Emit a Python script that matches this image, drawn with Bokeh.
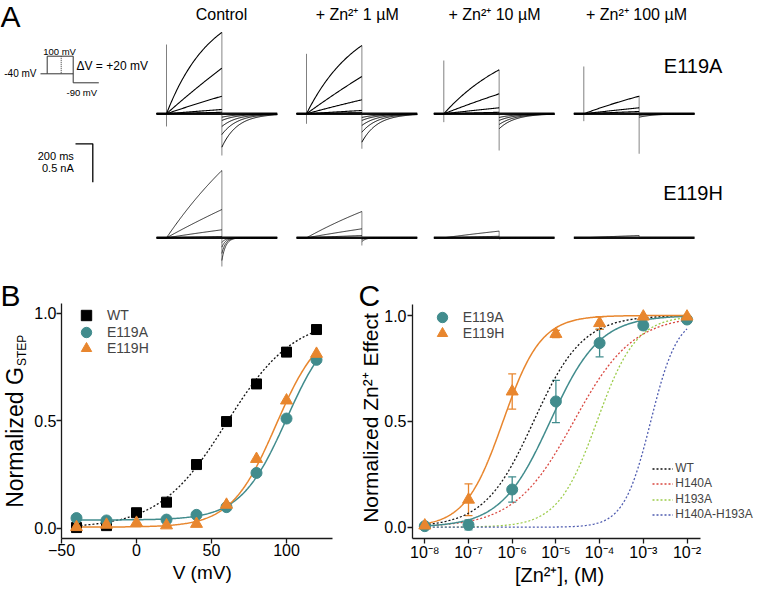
import numpy as np
from math import pi
from bokeh.plotting import figure
from bokeh.layouts import column, row
from bokeh.models import (Range1d, Label, FixedTicker, PrintfTickFormatter, Legend,
                          LegendItem, Whisker, TeeHead, ColumnDataSource)
from bokeh.embed import file_html
from bokeh.resources import INLINE

FONT = "Liberation Sans"
TEAL = "#418c8d"
ORANGE = "#e8862e"

# ======================= DATA =======================
# ---- Panel A : current traces ----
conditions = ["Control", "+ Zn²⁺ 1 µM", "+ Zn²⁺ 10 µM", "+ Zn²⁺ 100 µM"]
mutants = ["E119A", "E119H"]
step_ms = 640
pre_ms = 115
post_ms = 640
scale_ms = 200
scale_na = 0.5
# current at the end of each depolarizing step (nA), largest first
e119a_step_na = [[1.06, 0.594, 0.229, 0.056, 0.02],
                 [0.889, 0.486, 0.182, 0.043, 0.015],
                 [0.573, 0.26, 0.078, 0.02],
                 [0.229, 0.078, 0.03]]
e119a_tail_na = [[-0.435, -0.27, -0.165, -0.087, -0.044],
                 [-0.37, -0.24, -0.152, -0.087, -0.048],
                 [-0.195, -0.139, -0.087, -0.048],
                 [-0.044, -0.02, -0.01]]
e119a_tau_ms = [510, 600, 880, 1900]
e119a_tail_tau_ms = 180
e119a_on_spike = [[0.902, -0.165], [0.781, -0.13], [0.694, -0.109], [0.616, -0.096]]
e119a_off_spike = [[1.0625, -0.543], [0.889, -0.456], [0.573, -0.478], [0.238, -0.521]]

e119h_step_na = [[0.876, 0.368, 0.104, 0.017],
                 [0.342, 0.117, 0.03],
                 [0.087, 0.02],
                 [0.03]]
e119h_tail_na = [[-0.296, -0.204, -0.122, -0.06],
                 [-0.05, -0.02, -0.01],
                 [-0.015, -0.005],
                 [-0.01]]
e119h_tau_ms = [1600, 2000, 3000, 3000]
e119h_tail_tau_ms = 45
e119h_off_spike = [[0.876, -0.374], [0.342, -0.10], [0.09, -0.01], [0.03, -0.01]]
other_tau_ms = 4000

# ---- Panel B : G-V ----
v_mv = [-40, -20, 0, 20, 40, 60, 80, 100, 120]
wt_g = [0.003, 0.012, 0.072, 0.121, 0.296, 0.496, 0.671, 0.819, 0.924]
e119a_v = [-40, -20, 20, 40, 60, 80, 100, 120]
e119a_g = [0.047, 0.036, 0.040, 0.062, 0.098, 0.257, 0.510, 0.783]
e119h_g = [0.005, 0.016, 0.025, 0.013, 0.020, 0.109, 0.322, 0.594, 0.811]
# Boltzmann fits: baseline, amplitude, V1/2 (mV), slope (mV)
wt_boltz = [0.0, 0.98, 60.0, 22.5]
e119a_boltz = [0.038, 0.94, 100.0, 15.3]
e119h_boltz = [0.005, 0.95, 93.0, 15.0]

# ---- Panel C : dose-response ----
zn_m = [1e-8, 1e-7, 1e-6, 1e-5, 1e-4, 1e-3, 1e-2]
zn_exp = [-8, -7, -6, -5, -4, -3, -2]
c_e119a = [0.005, 0.011, 0.178, 0.594, 0.870, 0.953, 0.981]
c_e119a_err = [0.0, 0.024, 0.06, 0.10, 0.065, 0.02, 0.0]
c_e119h = [0.008, 0.13, 0.641, 0.913, 0.964, 0.995, 0.995]
c_e119h_err = [0.0, 0.075, 0.083, 0.017, 0.03, 0.0, 0.0]
# Hill fits: log10 EC50, Hill coefficient
hill_e119a = [-5.13, 0.77]
hill_e119h = [-6.21, 1.0]
ref_names = ["WT", "H140A", "H193A", "H140A-H193A"]
ref_hill = [[-5.51, 0.77], [-4.59, 0.64], [-4.06, 0.97], [-2.83, 1.41]]
ref_colors = ["#111111", "#d9473f", "#9ccc4a", "#4f5cb0"]

SUP = str.maketrans("-0123456789", "⁻⁰¹²³⁴⁵⁶⁷⁸⁹")
BASE_SHIFT = 0.3   # measured offset of the drawn baseline, in em


def lab(p, fx, fy, wx, wy, text, size, align="left", vertical=False):
    """Place a text so that its baseline lands at window pixel (wx, wy)."""
    if vertical:
        wx = wx - BASE_SHIFT * size
    else:
        wy = wy - BASE_SHIFT * size
    p.add_layout(Label(x=fx(wx), y=fy(wy), text=text, text_font=FONT,
                       text_font_size=f"{size}px", text_align=align,
                       text_baseline="alphabetic", angle=pi / 2 if vertical else 0.0,
                       text_color="black"))


# ======================= PANEL A =======================
W = 763
H_A = 280
H_B = 312
PX_MS = 17.3 / scale_ms
PX_NA = 38.4 / scale_na
ROW_Y_WIN = [113.3, 237.3]
GROUP_X_WIN = [166, 306, 443.3, 583.3]


def ax(wx):
    return wx / PX_MS


def ay(wy):
    return (ROW_Y_WIN[0] - wy) / PX_NA


pA = figure(width=W, height=H_A, x_range=Range1d(ax(0), ax(W)),
            y_range=Range1d(ay(H_A), ay(0)), toolbar_location=None,
            output_backend="svg", x_axis_location=None, y_axis_location=None,
            min_border=0, outline_line_color=None)
pA.xgrid.visible = False
pA.ygrid.visible = False

t_step = np.linspace(0, step_ms, 70)
t_post = np.linspace(step_ms, step_ms + post_ms, 90)


def act_curve(amp, tau, t):
    return amp * (1 - np.exp(-t / tau)) / (1 - np.exp(-step_ms / tau))


rows = [(e119a_step_na, e119a_tail_na, e119a_tau_ms, e119a_tail_tau_ms, 1.1),
        (e119h_step_na, e119h_tail_na, e119h_tau_ms, e119h_tail_tau_ms, 0.8)]
for r, (steps, tails, taus, ttau, lw) in enumerate(rows):
    y0 = ay(ROW_Y_WIN[r])
    for g in range(len(conditions)):
        x0 = ax(GROUP_X_WIN[g])
        if r == 0:
            top, bot = e119a_on_spike[g]
            pA.segment(x0=[x0], y0=[y0 + top], x1=[x0], y1=[y0 + bot],
                       line_color="#808080", line_width=1)
            top, bot = e119a_off_spike[g]
        else:
            top, bot = e119h_off_spike[g]
        pA.segment(x0=[x0 + step_ms], y0=[y0 + top], x1=[x0 + step_ms], y1=[y0 + bot],
                   line_color="#9a9a9a", line_width=1.2)
        pA.line([x0 - pre_ms, x0 + step_ms + post_ms], [y0, y0],
                line_width=2.6, line_color="#111111")
        for i, (a, b) in enumerate(zip(steps[g], tails[g])):
            tau = taus[g] if i == 0 else other_tau_ms
            xs = np.concatenate([[x0 - pre_ms, x0], x0 + t_step])
            ys = np.concatenate([[y0, y0], y0 + act_curve(a, tau, t_step)])
            pA.line(xs, ys, line_width=lw, line_color="black")
            pA.line(x0 + t_post, y0 + b * np.exp(-(t_post - step_ms) / ttau),
                    line_width=lw * 0.9, line_color="black")

title_x = [221, 356.7, 494, 636]
for tx, txt in zip(title_x, conditions):
    lab(pA, ax, ay, tx, 18.3, txt, 16, align="center")
lab(pA, ax, ay, 663.3, 71, mutants[0], 20)
lab(pA, ax, ay, 662.7, 198.7, mutants[1], 20)
lab(pA, ax, ay, 0, 24.5, "A", 30)

# voltage protocol schematic
proto_x = [40, 46.7, 46.7, 72.7, 72.7, 98.3]
proto_y = [73.3, 73.3, 55.7, 55.7, 82.3, 82.3]
pA.line([ax(v) for v in proto_x], [ay(v) for v in proto_y], line_color="#333333", line_width=1)
pA.line([ax(46.7), ax(72.7)], [ay(73.3), ay(73.3)], line_color="#333333", line_width=1)
pA.line([ax(60.7), ax(60.7)], [ay(55.7), ay(73.3)], line_color="#333333", line_width=1,
        line_dash="1 1")
lab(pA, ax, ay, 36, 76.3, "-40 mV", 10, align="right")
lab(pA, ax, ay, 42.7, 53.5, "100 mV", 9.5)
lab(pA, ax, ay, 76, 69.3, "ΔV = +20 mV", 12)
lab(pA, ax, ay, 66, 95.2, "-90 mV", 9.5)

# scale bar
sx0, sy0 = ax(92.3), ay(143.3)
pA.line([sx0 - scale_ms, sx0, sx0], [sy0, sy0, sy0 - scale_na], line_color="black", line_width=1.3)
lab(pA, ax, ay, 73.3, 158.3, f"{scale_ms} ms", 11, align="right")
lab(pA, ax, ay, 73.3, 170.7, f"{scale_na} nA", 11, align="right")


def style_axes(p, xb, yb, xfix, yfix):
    for a in list(p.xaxis) + list(p.yaxis):
        a.axis_line_width = 1.3
        a.axis_line_color = "#1a1a1a"
        a.major_tick_line_width = 1.3
        a.major_tick_line_color = "#1a1a1a"
        a.major_tick_in = 0
        a.major_tick_out = 5
        a.minor_tick_in = 0
        a.minor_tick_out = 0
        a.major_label_text_font = FONT
        a.major_label_text_font_size = "16px"
        a.major_label_text_color = "black"
        a.major_label_standoff = 0
    p.xaxis.bounds = xb
    p.yaxis.bounds = yb
    p.xaxis.fixed_location = yfix
    p.yaxis.fixed_location = xfix
    p.xgrid.visible = False
    p.ygrid.visible = False
    p.outline_line_color = None


def single_legend(p, renderer, label, loc, gw, gh, standoff, size):
    p.add_layout(Legend(items=[LegendItem(label=label, renderers=[renderer])],
                        location=loc, glyph_width=gw, glyph_height=gh, label_height=gh,
                        spacing=0, padding=0, margin=0, label_standoff=standoff,
                        label_text_font=FONT, label_text_font_size=f"{size}px",
                        border_line_color=None, background_fill_alpha=0))


# ======================= PANEL B =======================
B_X0, B_W = 0, 358


def bx(wx):
    return -50 + (wx - 61) / 1.5


def by(wy):
    return (527.7 - wy) / 215.0


pB = figure(width=B_W, height=H_B, x_range=Range1d(bx(B_X0), bx(B_X0 + B_W)),
            y_range=Range1d(by(H_A + H_B), by(H_A)), toolbar_location=None,
            output_backend="svg", min_border=0)
style_axes(pB, (-50, bx(332)), (by(538), by(303)), -50, by(538))
pB.xaxis.ticker = FixedTicker(ticks=[-50, 0, 50, 100])
pB.yaxis.ticker = FixedTicker(ticks=[0, 0.5, 1.0])
pB.yaxis.formatter = PrintfTickFormatter(format="%.1f")

vv = np.linspace(-40, 120, 200)


def boltz(par, v):
    b, a, vh, k = par
    return b + a / (1 + np.exp(-(v - vh) / k))


pB.line(vv, boltz(wt_boltz, vv), line_color="#111111", line_width=1.3, line_dash="2 2")
pB.line(vv, boltz(e119a_boltz, vv), line_color=TEAL, line_width=1.5)
pB.line(vv, boltz(e119h_boltz, vv), line_color=ORANGE, line_width=1.5)
r_wt = pB.scatter(v_mv, wt_g, marker="square", size=10, fill_color="black", line_color="black")
r_a = pB.scatter(e119a_v, e119a_g, marker="circle", size=11, fill_color=TEAL, line_color=TEAL)
r_h = pB.scatter(v_mv, e119h_g, marker="triangle", size=12, fill_color=ORANGE, line_color=ORANGE)

for rend, name, cy_win in [(r_wt, "WT", 315), (r_a, "E119A", 331.7), (r_h, "E119H", 348.3)]:
    single_legend(pB, rend, name, (86 - 13 - B_X0, H_A + H_B - (cy_win + 13)), 26, 26, 8, 14)

lab(pB, bx, by, 21.5, 366.7, "Normalized G", 23, align="right", vertical=True)
lab(pB, bx, by, 25, 365.5, "STEP", 12, align="left", vertical=True)
lab(pB, bx, by, 201.7, 577.3, "V (mV)", 19, align="center")
lab(pB, bx, by, 0, 303.5, "B", 30)

# ======================= PANEL C =======================
C_X0, C_W = 358, 405


def cx(wx):
    return 10 ** (-8 + (wx - 424.3) / 43.7)


def cy(wy):
    return (526.7 - wy) / 211.7


pC = figure(width=C_W, height=H_B, x_axis_type="log",
            x_range=Range1d(cx(C_X0), cx(C_X0 + C_W)),
            y_range=Range1d(cy(H_A + H_B), cy(H_A)), toolbar_location=None,
            output_backend="svg", min_border=0)
style_axes(pC, (cx(412), cx(700)), (cy(538), cy(304)), cx(412), cy(538))
pC.xaxis.ticker = FixedTicker(ticks=zn_m)
pC.xaxis.major_label_overrides = {m: "10" + str(e).translate(SUP) for m, e in zip(zn_m, zn_exp)}
pC.yaxis.ticker = FixedTicker(ticks=[0, 0.5, 1.0])
pC.yaxis.formatter = PrintfTickFormatter(format="%.1f")
pC.yaxis.major_label_standoff = 1

lx = np.linspace(-8, -2, 300)
xx = 10 ** lx


def hill(par, l):
    ec, n = par
    return 1 / (1 + 10 ** (n * (ec - l)))


ref_r = []
for nm, par, col in zip(ref_names, ref_hill, ref_colors):
    ref_r.append(pC.line(xx, hill(par, lx), line_color=col, line_width=1.3, line_dash="2 2"))
pC.line(xx, hill(hill_e119a, lx), line_color=TEAL, line_width=1.5)
pC.line(xx, hill(hill_e119h, lx), line_color=ORANGE, line_width=1.5)

for vals, errs, col in [(c_e119a, c_e119a_err, TEAL), (c_e119h, c_e119h_err, ORANGE)]:
    idx = [i for i, e in enumerate(errs) if e > 0]
    src = ColumnDataSource(dict(x=[zn_m[i] for i in idx],
                                lower=[vals[i] - errs[i] for i in idx],
                                upper=[vals[i] + errs[i] for i in idx]))
    pC.add_layout(Whisker(source=src, base="x", lower="lower", upper="upper",
                          line_color=col, line_width=1.3,
                          upper_head=TeeHead(size=8, line_color=col, line_width=1.3),
                          lower_head=TeeHead(size=8, line_color=col, line_width=1.3)))

rc_a = pC.scatter(zn_m, c_e119a, marker="circle", size=11, fill_color=TEAL, line_color=TEAL)
rc_h = pC.scatter(zn_m, c_e119h, marker="triangle", size=12, fill_color=ORANGE, line_color=ORANGE)

for rend, name, cy_win in [(rc_a, "E119A", 316.7), (rc_h, "E119H", 333.3)]:
    single_legend(pC, rend, name, (441.7 - 13 - C_X0, H_A + H_B - (cy_win + 13)), 26, 26, 8, 14)
for rend, name, cy_win in zip(ref_r, ref_names, [468.3, 483.3, 499.3, 514.3]):
    single_legend(pC, rend, name, (652.3 - C_X0, H_A + H_B - (cy_win + 7.5)), 21, 15, 2, 12)

lab(pC, cx, cy, 376.5, 417.5, "Normalized Zn²⁺ Effect", 21, align="center", vertical=True)
lab(pC, cx, cy, 559, 580.5, "[Zn²⁺], (M)", 20, align="center")
lab(pC, cx, cy, 358, 303.5, "C", 30)

layout = column(pA, row(pB, pC))
open("out.html", "w").write(file_html(layout, INLINE))
